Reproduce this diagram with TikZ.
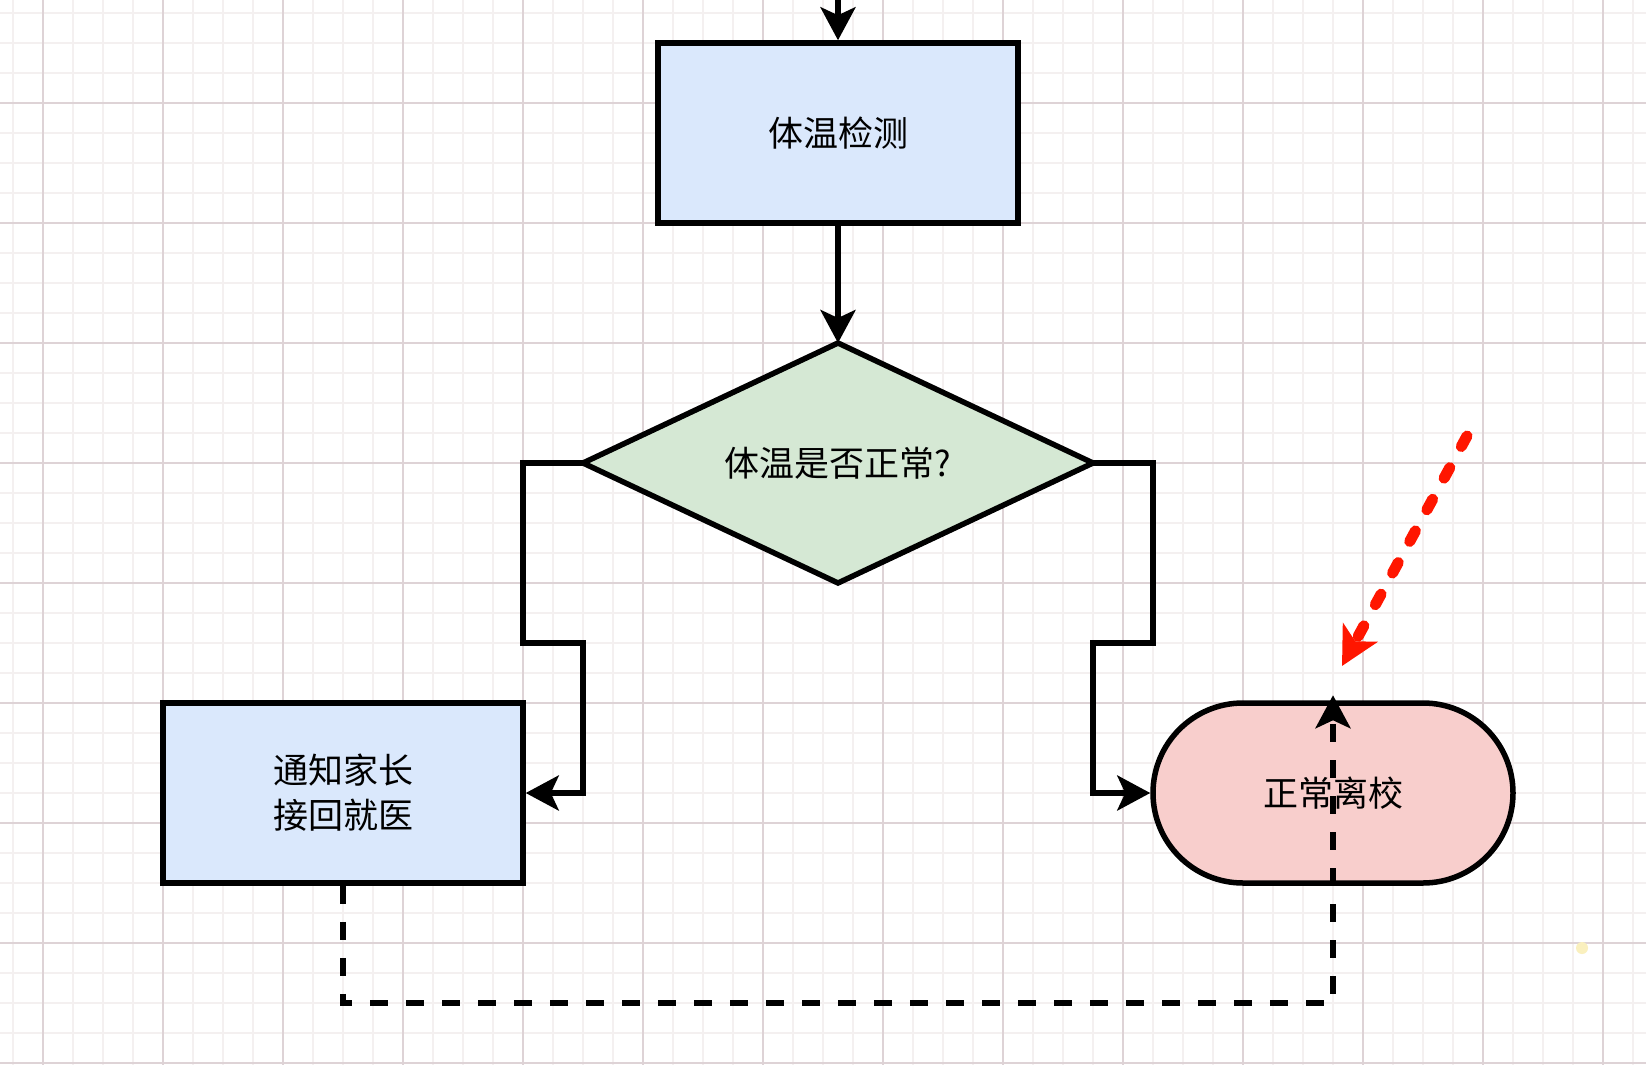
\documentclass[tikz,border=0pt]{standalone}
\usepackage{fontspec}
\newfontfamily\cjk{Noto Sans CJK SC}
\usetikzlibrary{shapes.geometric,shapes.misc,arrows.meta}
\definecolor{gridminor}{RGB}{244,240,240}
\definecolor{gridmajor}{RGB}{222,211,214}
\definecolor{boxblue}{RGB}{218,232,252}
\definecolor{decgreen}{RGB}{213,232,212}
\definecolor{termpink}{RGB}{248,206,204}
\definecolor{redmark}{RGB}{255,22,0}
\definecolor{dotyellow}{RGB}{250,240,190}
\begin{document}
\begin{tikzpicture}[x=1pt,y=-1pt,
  txt/.style={font=\cjk\fontsize{35}{45}\selectfont, align=center},
  boxnode/.style={rectangle, draw=black, line width=5.5pt, fill=boxblue,
    minimum width=360pt, minimum height=180pt, inner sep=0pt, txt},
  decnode/.style={diamond, aspect=2.125, draw=black, line width=5.5pt, fill=decgreen,
    minimum width=510pt, minimum height=240pt, inner sep=0pt, outer sep=0pt, txt},
  termnode/.style={rounded rectangle, draw=black, line width=5.5pt, fill=termpink,
    minimum width=360pt, minimum height=180pt, inner sep=0pt, txt},
  flowline/.style={line width=5.5pt, draw=black,
    -{Stealth[length=33pt,width=35pt,inset=8pt]}},
  dashline/.style={flowline, dash pattern=on 18pt off 18pt},
  redarrow/.style={line width=11pt, draw=redmark, line cap=round,
    dash pattern=on 12pt off 24pt,
    -{Stealth[length=38pt,width=39pt,inset=10pt,fill=redmark]}},
  minorline/.style={draw=gridminor, line width=2pt},
  majorline/.style={draw=gridmajor, line width=1.3pt}
]
\useasboundingbox (0,0) rectangle (1646,1065);
\clip (0,0) rectangle (1646,1065);
\fill[white] (0,0) rectangle (1646,1065);
% grid
\foreach \x in {13,43,...,1646} {\draw[minorline] (\x,0) -- (\x,1065);}
\foreach \y in {13,43,...,1065} {\draw[minorline] (0,\y) -- (1646,\y);}
\foreach \x in {43,163,...,1646} {\draw[majorline] (\x,0) -- (\x,1065);}
\foreach \y in {103,223,...,1065} {\draw[majorline] (0,\y) -- (1646,\y);}
% faint dot
\fill[dotyellow] (1582,948) circle (6);
% nodes
\node[boxnode] (check) at (838,133) {体温检测};
\node[decnode] (dec) at (838,463) {体温是否正常?};
\node[boxnode] (notify) at (343,793) {通知家长\\接回就医};
\node[termnode] (leave) at (1333,793) {正常离校};
% connectors
\coordinate (topin) at (838,-40);
\draw[flowline] (topin) -- (check.north);
\draw[flowline] (check.south) -- (dec.north);
\draw[flowline] (dec.west) -- ++(-60,0) -- ++(0,180) -- ++(60,0) |- (notify.east);
\draw[flowline] (dec.east) -- ++(60,0) -- ++(0,180) -- ++(-60,0) |- (leave.west);
\draw[dashline, shorten >=-5pt] (notify.south) -- ++(0,117) -| (leave.north);
% red pointer
\coordinate (redstart) at (1467,436);
\coordinate (redend) at (1342,666);
\draw[redarrow] (redstart) -- (redend);
\end{tikzpicture}
\end{document}
